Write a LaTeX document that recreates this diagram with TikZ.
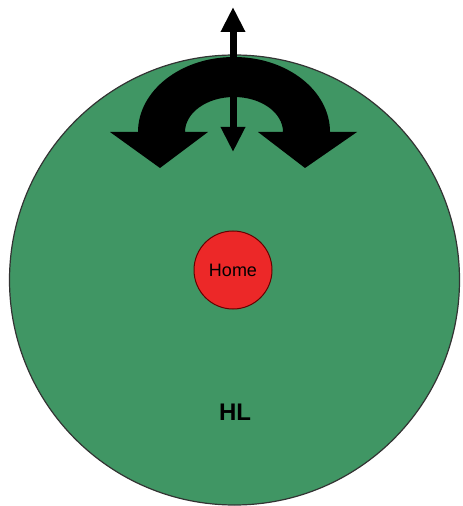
\documentclass[tikz,border=0pt]{standalone}
\usepackage{fontspec}
\setsansfont{Liberation Sans}
\usetikzlibrary{arrows.meta}

\definecolor{zonegreen}{RGB}{64,150,100}
\definecolor{homered}{RGB}{236,40,40}

\begin{document}
\begin{tikzpicture}[
        x=0.5pt,y=-0.5pt,
        zone/.style={
            circle,
            draw=black!80,
            fill=zonegreen,
            line width=0.6pt,
            minimum size=225pt,
            inner sep=0pt},
        homecircle/.style={
            circle,
            draw=black!60!red,
            fill=homered,
            line width=0.5pt,
            minimum size=39pt,
            inner sep=0pt,
            font=\sffamily\fontsize{9}{9}\selectfont},
        zonelabel/.style={font=\sffamily\bfseries\fontsize{12}{12}\selectfont},
        thinarrow/.style={
            line width=3.5pt,
            {Triangle[width=11.5pt,length=12.5pt]}-{Triangle[width=11.5pt,length=12.5pt]}}
        ]
        \useasboundingbox (0,0) rectangle (462,506);
        \node[zone] (hl) at (234.5,280) {};
        \node[homecircle] (home) at (233,270) {Home};
        \node[zonelabel] (hltext) at (235,412) {HL};

        % u-turn arrow
        \fill[black] (138,132) arc[start angle=180,end angle=360,x radius=96,y radius=75]
            -- (357,132) -- (305,168) -- (258,132) -- (283,132)
            arc[start angle=0,end angle=-180,x radius=49,y radius=35]
            -- (208,132) -- (160,168) -- (110,132) -- cycle;

        \coordinate (up) at (233,7);
        \coordinate (down) at (233,152);
        \draw[thinarrow] (up) -- (down);
\end{tikzpicture}
\end{document}
